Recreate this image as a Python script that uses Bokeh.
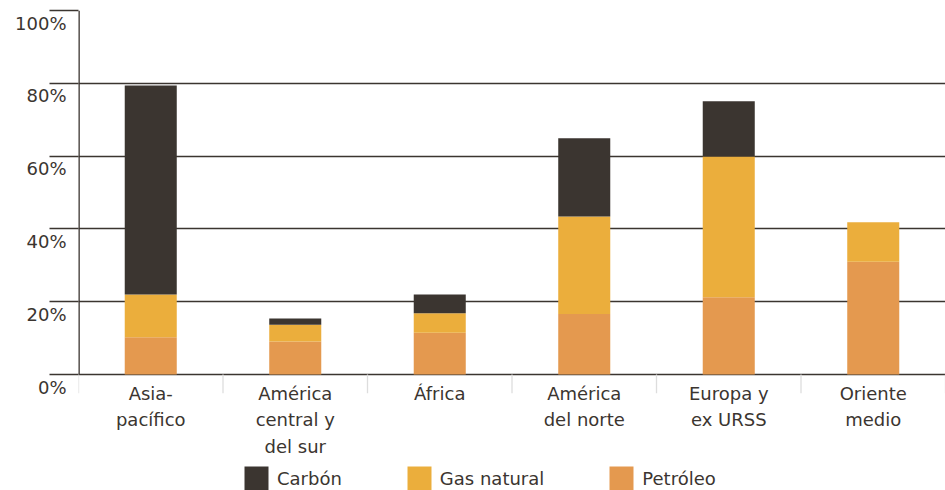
import numpy as np
from bokeh.plotting import figure
from bokeh.layouts import column
from bokeh.models import (ColumnDataSource, FixedTicker, Range1d, Legend, LegendItem, Grid,
                          LinearAxis)
from bokeh.embed import file_html
from bokeh.resources import INLINE

# Share of primary energy consumption by source and region (%)
regions = ["Asia-\npacífico", "América\ncentral y\ndel sur", "África",
           "América\ndel norte", "Europa y\nex URSS", "Oriente\nmedio"]
petroleo = [10.2, 9.1, 11.5, 16.6, 21.2, 31.0]
gas_natural = [11.8, 4.6, 5.3, 26.8, 38.7, 10.8]
carbon = [57.4, 1.7, 5.2, 21.5, 15.2, 0.0]
y_ticks = [0, 20, 40, 60, 80, 100]
sources = ["Carbón", "Gas natural", "Petróleo"]

TEXT = "#3b3530"
FONT = "DejaVu Sans"
COLORS = {"Carbón": "#3b3530", "Gas natural": "#ebae3c", "Petróleo": "#e4994f"}

# layout in pixels
FRAME_TOP, FRAME_BOTTOM, ZERO_Y, FIG_H, TOTAL_H = 10, 393, 374, 459, 490
PX_PER_PCT = (ZERO_Y - FRAME_TOP) / 100.0
Y_MIN = -(FRAME_BOTTOM - ZERO_Y) / PX_PER_PCT     # room for the region separators
LABEL_DROP = 12.5 / PX_PER_PCT                   # tick labels sit under their line

n = len(regions)
x = np.arange(n) + 0.5
bounds = np.arange(n + 1)
src = ColumnDataSource(dict(x=x, petroleo=petroleo, gas=gas_natural, carbon=carbon))

p = figure(width=945, height=FIG_H, output_backend="svg", toolbar_location=None,
           x_range=Range1d(0, n), y_range=Range1d(Y_MIN, 100),
           min_border_left=78, min_border_right=0, min_border_top=FRAME_TOP,
           min_border_bottom=FIG_H - FRAME_BOTTOM)
p.outline_line_color = None
p.background_fill_color = "white"
p.extra_y_ranges = {"labels": Range1d(Y_MIN + LABEL_DROP, 100 + LABEL_DROP)}

# light separators between regions, below the baseline
p.segment(x0=bounds, y0=[Y_MIN] * (n + 1), x1=bounds, y1=[0] * (n + 1),
          line_color="#dddddd", line_width=1.3)

p.vbar_stack(["petroleo", "gas", "carbon"], x="x", width=0.36, source=src,
             color=[COLORS["Petróleo"], COLORS["Gas natural"], COLORS["Carbón"]],
             line_color=None)

# grid lines (0 is the baseline)
p.xgrid.visible = False
p.ygrid.ticker = FixedTicker(ticks=[0, 20, 40, 60, 80])
p.ygrid.grid_line_color = TEXT
p.ygrid.grid_line_width = 1.3
top_grid = Grid(dimension=1, ticker=FixedTicker(ticks=[100]),
                grid_line_color="#eeeeee", grid_line_width=1.3)
p.add_layout(top_grid)

# vertical axis line from 0% to 100%
p.segment(x0=[0], y0=[0], x1=[0], y1=[100], line_color=TEXT, line_width=2.6)

# y axis: tick marks only
ya = p.yaxis[0]
ya.ticker = FixedTicker(ticks=[], minor_ticks=y_ticks)
ya.major_tick_out = 0
ya.major_tick_in = 0
ya.minor_tick_out = 29
ya.minor_tick_in = 0
ya.minor_tick_line_color = TEXT
ya.minor_tick_line_width = 1.3
ya.axis_line_color = None
ya.major_label_standoff = 0

# y labels on a shifted range so each one hangs below its line
yl = LinearAxis(y_range_name="labels", ticker=FixedTicker(ticks=y_ticks, minor_ticks=[]),
                major_label_overrides={t: f"{t}%" for t in y_ticks},
                major_tick_out=0, major_tick_in=0, minor_tick_out=0, minor_tick_in=0,
                axis_line_color=None, major_label_standoff=-17,
                major_label_text_font=FONT, major_label_text_font_size="18px",
                major_label_text_color=TEXT)
p.add_layout(yl, "left")

# x axis: region names centred under each bar
xa = p.xaxis[0]
xa.ticker = FixedTicker(ticks=list(x), minor_ticks=[])
xa.major_label_overrides = {float(v): r for v, r in zip(x, regions)}
xa.major_tick_out = 0
xa.major_tick_in = 0
xa.minor_tick_out = 0
xa.minor_tick_in = 0
xa.axis_line_color = None
xa.major_label_standoff = -11
xa.major_label_text_font = FONT
xa.major_label_text_font_size = "18px"
xa.major_label_text_color = TEXT
xa.major_label_text_line_height = 1.27

# legend strip under the chart (its bars lie far outside the visible range)
leg = figure(width=945, height=TOTAL_H - FIG_H, output_backend="svg", toolbar_location=None,
             x_range=Range1d(0, n), y_range=Range1d(1000, 1001),
             min_border=0, min_border_left=0, min_border_right=0,
             min_border_top=0, min_border_bottom=0)
leg.outline_line_color = None
leg.axis.visible = False
leg.grid.visible = False
items = []
for name, col in zip(sources, ["carbon", "gas", "petroleo"]):
    r = leg.vbar(x="x", top=col, width=0.36, source=src, color=COLORS[name], line_color=None)
    items.append(LegendItem(label=name, renderers=[r]))
legend = Legend(items=items, orientation="horizontal", location=(163, -3),
                glyph_width=30, glyph_height=30, label_standoff=6, spacing=62,
                label_text_font=FONT, label_text_font_size="18px",
                label_text_color=TEXT, border_line_color=None,
                background_fill_alpha=0, padding=0, margin=0)
leg.add_layout(legend)

open("out.html", "w").write(file_html(column(p, leg, spacing=0), INLINE))
